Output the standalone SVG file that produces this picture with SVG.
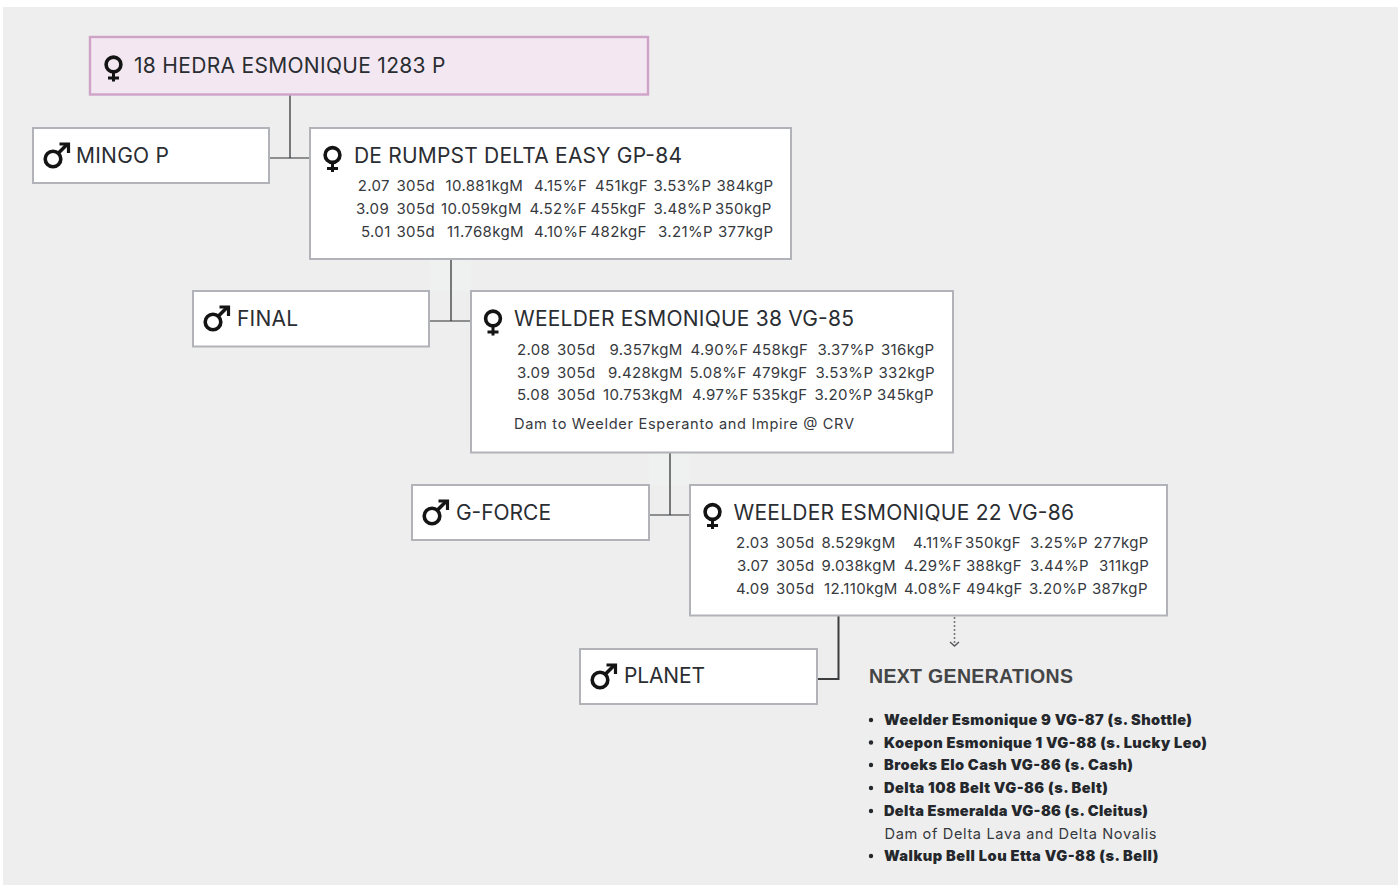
<svg xmlns="http://www.w3.org/2000/svg" width="1398" height="886" viewBox="0 0 1398 886">
<style>
.box{fill:#fff;stroke:#b2b3b8;stroke-width:2}
.t{font-family:Inter,"Open Sans",sans-serif;font-size:21px;fill:#2a2d32}
.d{font-family:Inter,"Open Sans",sans-serif;font-size:15px;letter-spacing:.35px;fill:#36393d}
.e{font-family:Inter,"Open Sans",sans-serif;font-size:14.6px;fill:#36393d}
.b{font-family:Inter,"Open Sans",sans-serif;font-size:14.6px;font-weight:900;fill:#24272b}
.h{font-family:"Liberation Sans",Arial,sans-serif;font-size:19.5px;font-weight:700;fill:#444547}
.v{stroke:#77787a;stroke-width:2;fill:none}
.w{stroke:#2c2e30;stroke-width:1.2;fill:none}
.n{fill:#eff0f0}
.sym{fill:none;stroke:#141414;stroke-width:3.6}
.dot{fill:#24272b}
</style>
<defs>
<g id="f" class="sym"><circle cx="0" cy="0" r="7.4"/><path d="M0 7V17M-5.5 13.5H5.5" stroke-width="3"/></g>
<g id="m" class="sym"><circle cx="0" cy="0" r="7.8"/><path d="M5.5 -6L14.5 -15"/><path d="M6.5 -15H15.5V-6" stroke-width="3.2"/></g>
</defs>
<rect x="0" y="0" width="1398" height="886" fill="#fff"/>
<rect x="3" y="7" width="1395" height="878" fill="#eeeeee"/>
<g id="connectors">
<rect class="n" x="269" y="94" width="41" height="2"/><rect class="n" x="430" y="259" width="41" height="32"/><rect class="n" x="649" y="452" width="41" height="33"/><rect class="n" x="817" y="615" width="21" height="2"/>
<path class="v" d="M290 95V158M451 260V321M670 453V515"/>
<path class="w" d="M269 158H309M430 321H470M650 515H689"/>
<path d="M838.5 616V679H817" fill="none" stroke="#3c3d3f" stroke-width="2"/>
<path d="M954.5 617V644" fill="none" stroke="#77787a" stroke-width="1.6" stroke-dasharray="2 2"/>
<path d="M950 642L954.5 646L959 642" fill="none" stroke="#55565a" stroke-width="1.4"/>
</g>
<g id="node-hedra">
<rect x="90" y="37" width="558" height="57.5" fill="#f3e8f1" stroke="#cfa3c8" stroke-width="2.4"/>
<use href="#f" x="113.5" y="64.5"/>
<text class="t" x="134" y="72.5" textLength="311.5">18 HEDRA ESMONIQUE 1283 P</text>
</g>
<g id="node-mingo">
<rect class="box" x="33" y="128" width="236" height="55"/>
<use href="#m" x="53" y="159"/>
<text class="t" x="76" y="163" textLength="93">MINGO P</text>
</g>
<g id="node-delta-easy">
<rect class="box" x="310" y="128" width="481" height="131"/>
<use href="#f" x="332.5" y="155"/>
<text class="t" x="354" y="163" textLength="328">DE RUMPST DELTA EASY GP-84</text>
<text class="d" y="191"><tspan x="357.7">2.07 </tspan><tspan x="396.5">305d </tspan><tspan x="445.5">10.881kgM </tspan><tspan x="534">4.15%F </tspan><tspan x="595">451kgF </tspan><tspan x="653.5">3.53%P </tspan><tspan x="716.5">384kgP</tspan></text>
<text class="d" y="214"><tspan x="356">3.09 </tspan><tspan x="396.5">305d </tspan><tspan x="441">10.059kgM </tspan><tspan x="529.5">4.52%F </tspan><tspan x="590.5">455kgF </tspan><tspan x="653.5">3.48%P </tspan><tspan x="715">350kgP</tspan></text>
<text class="d" y="237"><tspan x="361">5.01 </tspan><tspan x="396.5">305d </tspan><tspan x="447">11.768kgM </tspan><tspan x="534">4.10%F </tspan><tspan x="590.5">482kgF </tspan><tspan x="658">3.21%P </tspan><tspan x="718">377kgP</tspan></text>
</g>
<g id="node-final">
<rect class="box" x="193" y="291" width="236" height="55.5"/>
<use href="#m" x="213" y="322"/>
<text class="t" x="237" y="326" textLength="61">FINAL</text>
</g>
<g id="node-esmonique-38">
<rect class="box" x="471" y="291" width="482" height="161.5"/>
<use href="#f" x="493" y="318.5"/>
<text class="t" x="514" y="326" textLength="340">WEELDER ESMONIQUE 38 VG-85</text>
<text class="d" y="355"><tspan x="517">2.08 </tspan><tspan x="557">305d </tspan><tspan x="609.5">9.357kgM </tspan><tspan x="690.5">4.90%F </tspan><tspan x="752">458kgF </tspan><tspan x="817.5">3.37%P </tspan><tspan x="881">316kgP</tspan></text>
<text class="d" y="377.5"><tspan x="517">3.09 </tspan><tspan x="557">305d </tspan><tspan x="608">9.428kgM </tspan><tspan x="689.5">5.08%F </tspan><tspan x="752">479kgF </tspan><tspan x="815.5">3.53%P </tspan><tspan x="878.5">332kgP</tspan></text>
<text class="d" y="400"><tspan x="517">5.08 </tspan><tspan x="557">305d </tspan><tspan x="603">10.753kgM </tspan><tspan x="692">4.97%F </tspan><tspan x="752">535kgF </tspan><tspan x="814.5">3.20%P </tspan><tspan x="877">345kgP</tspan></text>
<text class="e" x="514" y="429" textLength="340">Dam to Weelder Esperanto and Impire @ CRV</text>
</g>
<g id="node-gforce">
<rect class="box" x="412" y="485" width="237" height="55"/>
<use href="#m" x="432" y="516"/>
<text class="t" x="456" y="520" textLength="95">G-FORCE</text>
</g>
<g id="node-esmonique-22">
<rect class="box" x="690" y="485" width="477" height="130.5"/>
<use href="#f" x="712.5" y="512"/>
<text class="t" x="733.5" y="520" textLength="340.5">WEELDER ESMONIQUE 22 VG-86</text>
<text class="d" y="548"><tspan x="736">2.03 </tspan><tspan x="776">305d </tspan><tspan x="821.5">8.529kgM </tspan><tspan x="913">4.11%F </tspan><tspan x="965">350kgF </tspan><tspan x="1030">3.25%P </tspan><tspan x="1093.5">277kgP</tspan></text>
<text class="d" y="571"><tspan x="737">3.07 </tspan><tspan x="776">305d </tspan><tspan x="821.5">9.038kgM </tspan><tspan x="904">4.29%F </tspan><tspan x="966">388kgF </tspan><tspan x="1030">3.44%P </tspan><tspan x="1099">311kgP</tspan></text>
<text class="d" y="594"><tspan x="736">4.09 </tspan><tspan x="776">305d </tspan><tspan x="824">12.110kgM </tspan><tspan x="904">4.08%F </tspan><tspan x="966">494kgF </tspan><tspan x="1029">3.20%P </tspan><tspan x="1092">387kgP</tspan></text>
</g>
<g id="node-planet">
<rect class="box" x="580" y="649" width="237" height="55"/>
<use href="#m" x="600" y="680"/>
<text class="t" x="624" y="683" textLength="81">PLANET</text>
</g>
<g id="next-generations">
<text class="h" x="869" y="683" textLength="204">NEXT GENERATIONS</text>
<circle class="dot" cx="871" cy="720" r="2.2"/><circle class="dot" cx="871" cy="742.5" r="2.2"/><circle class="dot" cx="871" cy="765" r="2.2"/><circle class="dot" cx="871" cy="788" r="2.2"/><circle class="dot" cx="871" cy="811" r="2.2"/><circle class="dot" cx="871" cy="856" r="2.2"/>
<text class="b" x="884" y="725" textLength="308">Weelder Esmonique 9 VG-87 (s. Shottle)</text>
<text class="b" x="884" y="747.5" textLength="323">Koepon Esmonique 1 VG-88 (s. Lucky Leo)</text>
<text class="b" x="884" y="770" textLength="249">Broeks Elo Cash VG-86 (s. Cash)</text>
<text class="b" x="884" y="793" textLength="224">Delta 108 Belt VG-86 (s. Belt)</text>
<text class="b" x="884" y="816" textLength="264">Delta Esmeralda VG-86 (s. Cleitus)</text>
<text class="e" x="884.5" y="838.5" textLength="272">Dam of Delta Lava and Delta Novalis</text>
<text class="b" x="884" y="861" textLength="274.5">Walkup Bell Lou Etta VG-88 (s. Bell)</text>
</g>
</svg>
